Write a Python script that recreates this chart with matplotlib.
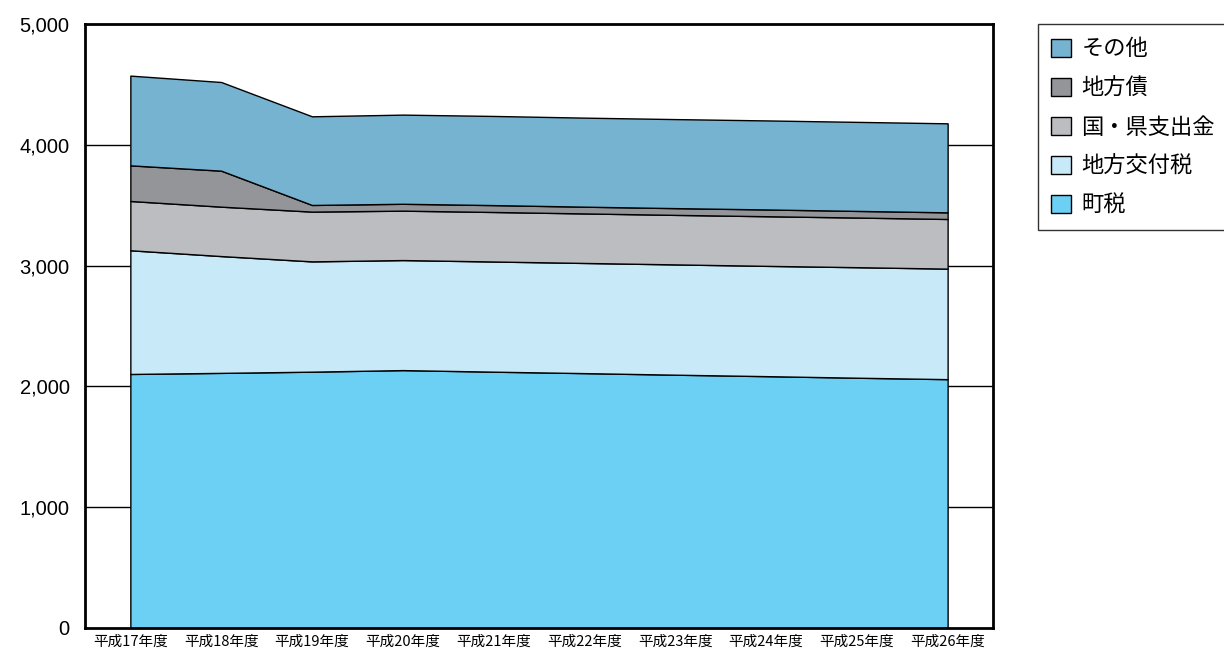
import matplotlib
matplotlib.use("Agg")
import matplotlib.pyplot as plt
import numpy as np

plt.rcParams['font.family'] = ['Noto Sans CJK JP', 'DejaVu Sans']

years = ["平成17年度", "平成18年度", "平成19年度", "平成20年度", "平成21年度",
         "平成22年度", "平成23年度", "平成24年度", "平成25年度", "平成26年度"]

# 町税 (bottom) ... その他 (top)
chozei = [2103, 2112, 2122, 2135, 2122, 2110, 2097, 2085, 2072, 2060]
kofuzei = [1024, 967, 913, 911, 912, 912, 913, 913, 915, 915]
shishutsukin = [408, 409, 412, 409, 410, 410, 410, 411, 411, 411]
chihosai = [295, 298, 55, 57, 57, 56, 56, 56, 55, 55]
sonota = [743, 734, 734, 738, 738, 737, 737, 737, 737, 737]

labels = ["町税", "地方交付税", "国・県支出金", "地方債", "その他"]
colors = ["#6ccff4", "#c7e9f8", "#bcbdc1", "#939598", "#76b3d0"]
yticks = [0, 1000, 2000, 3000, 4000, 5000]
ytick_labels = ["0", "1,000", "2,000", "3,000", "4,000", "5,000"]


def main():
    fig = plt.figure(figsize=(12.24, 6.53), dpi=100)
    ax = fig.add_axes([0.0694, 0.0383, 0.7419, 0.9249])

    x = np.arange(len(years))
    series = [chozei, kofuzei, shishutsukin, chihosai, sonota]
    ax.stackplot(x, *series, colors=colors, labels=labels,
                 edgecolor="black", linewidth=1.0, zorder=2)

    # grid lines sit behind the areas, only visible at the edges
    for y in yticks[1:-1]:
        ax.axhline(y, color="black", linewidth=1.0, zorder=1)

    ax.set_xlim(-0.5, len(years) - 0.5)
    ax.set_ylim(0, 5000)
    ax.set_xticks(x)
    ax.set_xticklabels(years, fontsize=10.5)
    ax.set_yticks(yticks)
    ax.set_yticklabels(ytick_labels, fontsize=14.5, family=['Liberation Sans'])
    ax.tick_params(axis="both", length=0, pad=5)
    ax.tick_params(axis="y", pad=11)
    for s in ax.spines.values():
        s.set_linewidth(2.0)

    handles, labs = ax.get_legend_handles_labels()
    leg = fig.legend(handles[::-1], labs[::-1], loc="upper left",
                     bbox_to_anchor=(0.848, 0.963), borderaxespad=0,
                     fontsize=16, frameon=True, fancybox=False,
                     handlelength=0.9, handleheight=0.9, handletextpad=0.45,
                     labelspacing=0.72, borderpad=0.6, edgecolor="black")
    leg.get_frame().set_linewidth(1.0)

    plt.savefig("out.png", dpi=100)
    plt.close()


if __name__ == '__main__':
    main()
